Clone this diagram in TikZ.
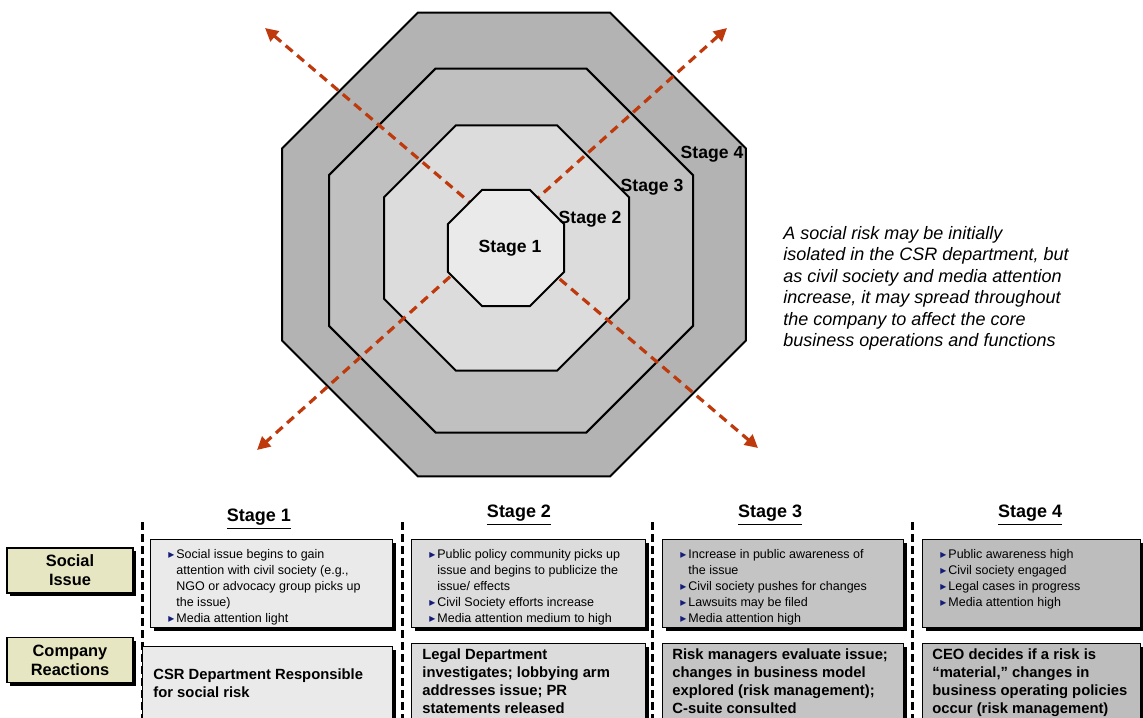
\documentclass[tikz,border=0pt]{standalone}
\usepackage{fontspec}
\setmainfont{Liberation Sans}
\newfontfamily\symfont{DejaVu Sans}
\usetikzlibrary{shapes.geometric,arrows.meta,shadows}

\definecolor{stageone}{HTML}{EAEAEA}
\definecolor{stagetwo}{HTML}{DCDCDC}
\definecolor{stagethree}{HTML}{C0C0C0}
\definecolor{stagefour}{HTML}{B3B3B3}
\definecolor{boxthree}{HTML}{C4C4C4}
\definecolor{boxfour}{HTML}{BDBDBD}
\definecolor{riskred}{RGB}{190,58,12}
\definecolor{labelkhaki}{RGB}{230,230,194}
\definecolor{bulletblue}{RGB}{20,30,120}

\newcommand{\bul}{\makebox[4pt][l]{\textcolor{bulletblue}{\symfont\fontsize{6}{6}\selectfont ▸}}}
\newcommand{\cont}{\hspace*{4pt}}

\tikzset{
    octagon/.style = {regular polygon, regular polygon sides=8, draw=black, line width=1pt, inner sep=0pt},
    octlabel/.style = {font=\bfseries\fontsize{8.8}{10}\selectfont, inner sep=0pt},
    spread/.style = {draw=riskred, line width=1.6pt, dash pattern=on 4.5pt off 3pt,
        {Triangle[length=6.5pt,width=6.5pt]}-{Triangle[length=6.5pt,width=6.5pt]}},
    divider/.style = {draw=black, line width=1.5pt, dash pattern=on 4pt off 2pt},
    header/.style = {font=\bfseries\fontsize{9}{11}\selectfont, inner sep=0pt},
    panel/.style = {draw=black, line width=0.6pt, anchor=north west, inner sep=0pt,
        drop shadow={shadow xshift=1.5pt, shadow yshift=-1.5pt, fill=black, opacity=1}},
    rowlabel/.style = {panel, anchor=center, fill=labelkhaki, minimum width=63pt, minimum height=22.5pt,
        align=center, font=\bfseries\fontsize{8.2}{9.5}\selectfont},
    bullets/.style = {anchor=north west, inner sep=0pt, align=left, font=\fontsize{6.25}{8}\selectfont},
    reaction/.style = {anchor=north west, inner sep=0pt, align=left, font=\bfseries\fontsize{7.4}{9}\selectfont}
}

\begin{document}
\begin{tikzpicture}[x=0.5pt, y=-0.5pt]
    \clip (0,0) rectangle (1143,717);

    % spreading stages
    \node[octagon, fill=stagefour, minimum size=251.1pt] (octfour) at (514,244.5) {};
    \node[octagon, fill=stagethree, minimum size=197pt] (octthree) at (511,250.5) {};
    \node[octagon, fill=stagetwo, minimum size=132.6pt] (octtwo) at (506.5,248) {};

    \coordinate (nw) at (265,28);
    \coordinate (se) at (758,448);
    \coordinate (ne) at (727,28);
    \coordinate (sw) at (257,450);
    \draw[spread] (nw) -- (se);
    \draw[spread] (ne) -- (sw);

    \node[octagon, fill=stageone, minimum size=62.8pt] (octone) at (506,248) {};

    \node[octlabel] (lblone) at (510,248) {Stage 1};
    \node[octlabel] (lbltwo) at (590,219) {Stage 2};
    \node[octlabel] (lblthree) at (652,187) {Stage 3};
    \node[octlabel] (lblfour) at (712,154) {Stage 4};

    \node[anchor=north west, inner sep=0pt, align=left, font=\itshape\fontsize{9}{10.75}\selectfont] (note) at (783,226)
        {A social risk may be initially\\ isolated in the CSR department, but\\ as civil society and media attention\\
         increase, it may spread throughout\\ the company to affect the core\\ business operations and functions};

    % table
    \node[header] (headone) at (259,519) {\underline{Stage 1}};
    \node[header] (headtwo) at (519,515) {\underline{Stage 2}};
    \node[header] (headthree) at (770,515) {\underline{Stage 3}};
    \node[header] (headfour) at (1030,515) {\underline{Stage 4}};

    \coordinate (divone) at (142,522);
    \coordinate (divtwo) at (402,522);
    \coordinate (divthree) at (652,522);
    \coordinate (divfour) at (912,522);
    \foreach \d in {divone,divtwo,divthree,divfour}
        \draw[divider] (\d) -- ++(0,200);

    \node[rowlabel] (social) at (70,570.5) {Social\\ Issue};
    \node[rowlabel] (company) at (70,660) {Company\\ Reactions};

    \node[panel, fill=stageone, minimum width=121pt, minimum height=44pt] (issone) at (150,539) {};
    \node[panel, fill=stagetwo, minimum width=117pt, minimum height=44pt] (isstwo) at (411,539) {};
    \node[panel, fill=boxthree, minimum width=120.5pt, minimum height=44pt] (issthree) at (662,539) {};
    \node[panel, fill=boxfour, minimum width=109pt, minimum height=44pt] (issfour) at (922,539) {};

    \node[panel, fill=stageone, minimum width=125pt, minimum height=50pt] (reacone) at (142,646) {};
    \node[panel, fill=stagetwo, minimum width=117pt, minimum height=50pt] (reactwo) at (411,643) {};
    \node[panel, fill=boxthree, minimum width=120.5pt, minimum height=50pt] (reacthree) at (662,643) {};
    \node[panel, fill=boxfour, minimum width=109pt, minimum height=50pt] (reacfour) at (922,643) {};

    \node[bullets] (issonetxt) at (168,549) {\bul Social issue begins to gain\\ \cont attention with civil society (e.g.,\\
        \cont NGO or advocacy group picks up\\ \cont the issue)\\ \bul Media attention light};
    \node[bullets] (isstwotxt) at (429,549) {\bul Public policy community picks up\\ \cont issue and begins to publicize the\\
        \cont issue/ effects\\ \bul Civil Society efforts increase\\ \bul Media attention medium to high};
    \node[bullets] (issthreetxt) at (680,549) {\bul Increase in public awareness of\\ \cont the issue\\
        \bul Civil society pushes for changes\\ \bul Lawsuits may be filed\\ \bul Media attention high};
    \node[bullets] (issfourtxt) at (940,549) {\bul Public awareness high\\ \bul Civil society engaged\\
        \bul Legal cases in progress\\ \bul Media attention high};

    \node[reaction] (reaconetxt) at (153,668) {CSR Department Responsible\\ for social risk};
    \node[reaction] (reactwotxt) at (422,648) {Legal Department\\ investigates; lobbying arm\\ addresses issue; PR\\ statements released};
    \node[reaction] (reacthreetxt) at (672,648) {Risk managers evaluate issue;\\ changes in business model\\ explored (risk management);\\ C-suite consulted};
    \node[reaction] (reacfourtxt) at (932,648) {CEO decides if a risk is\\ “material,” changes in\\ business operating policies\\ occur (risk management)};
\end{tikzpicture}
\end{document}
